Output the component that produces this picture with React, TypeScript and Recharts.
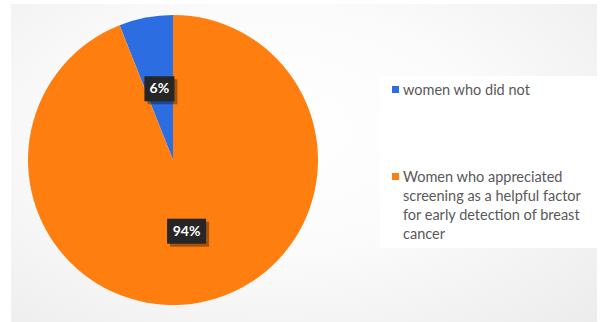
import React from 'react'
import { Legend, Pie, PieChart, Cell } from 'recharts'

const categories = ['women who did not', 'Women who appreciated screening as a helpful factor for early detection of breast cancer']
const legendLines = [
    ['women who did not'],
    ['Women who appreciated', 'screening as a helpful factor', 'for early detection of breast', 'cancer'],
]
const shares = [6, 94]
const colors = ['#2C6EE2', '#FE7F10']

const RADIAN = Math.PI / 180

const renderLabel = (props: any) => {
    const { cx, cy, midAngle, outerRadius, value } = props
    const r = outerRadius * 0.5
    const x = cx + r * Math.cos(-midAngle * RADIAN)
    const y = cy + r * Math.sin(-midAngle * RADIAN)
    const text = `${value}%`
    const w = text.length * 9 + 12
    const h = 25
    return (
        <g>
            <rect x={x - w / 2 + 3} y={y - h / 2 + 3} width={w} height={h} fill="#000" opacity={0.35} />
            <rect x={x - w / 2} y={y - h / 2} width={w} height={h} fill="#262626" />
            <text x={x} y={y + 1} fill="#fff" fontSize={14} fontWeight="bold" textAnchor="middle" dominantBaseline="middle"
                fontFamily="Lato, 'Open Sans', sans-serif">
                {text}
            </text>
        </g>
    )
}

const renderLegend = () => (
    <div style={{ fontFamily: "Lato, 'Open Sans', sans-serif", fontSize: 14.5, color: '#595959', lineHeight: '19px' }}>
        {legendLines.map((lines, i) => (
            <div key={i} style={{ display: 'flex', alignItems: 'flex-start', marginBottom: i === 0 ? 68 : 0 }}>
                <span style={{ width: 7, height: 7, background: colors[i], marginTop: 6, marginRight: 4, flexShrink: 0 }} />
                <div>
                    {lines.map((l, j) => <div key={j}>{l}</div>)}
                </div>
            </div>
        ))}
    </div>
)

const App: React.FC = () => {
    const data = categories.map((name, i) => ({ name, value: shares[i] }))
    return (
        <div style={{ position: 'absolute', left: 0, top: 0, width: 602, height: 322, background: '#fff', overflow: 'hidden' }}>
            <div style={{
                position: 'absolute', left: 11, top: 4, width: 586, height: 318,
                background: 'radial-gradient(ellipse at 45% 40%, #ffffff 0%, #fbfbfb 45%, #ececec 100%)',
            }} />
            <div style={{ position: 'absolute', left: 380, top: 76, width: 217, height: 172, background: '#fff' }} />
            <div style={{ position: 'absolute', left: 0, top: 0 }}>
                <PieChart width={602} height={322}>
                    <Pie
                        data={data}
                        dataKey="value"
                        nameKey="name"
                        cx={168}
                        cy={155}
                        outerRadius={145}
                        startAngle={90}
                        endAngle={450}
                        stroke="none"
                        label={renderLabel}
                        labelLine={false}
                        isAnimationActive={false}
                    >
                        {data.map((d, i) => <Cell key={d.name} fill={colors[i]} />)}
                    </Pie>
                    <Legend
                        layout="vertical"
                        content={renderLegend}
                        wrapperStyle={{ position: 'absolute', left: 392, top: 80, width: 205 }}
                    />
                </PieChart>
            </div>
        </div>
    )
}

export default App
